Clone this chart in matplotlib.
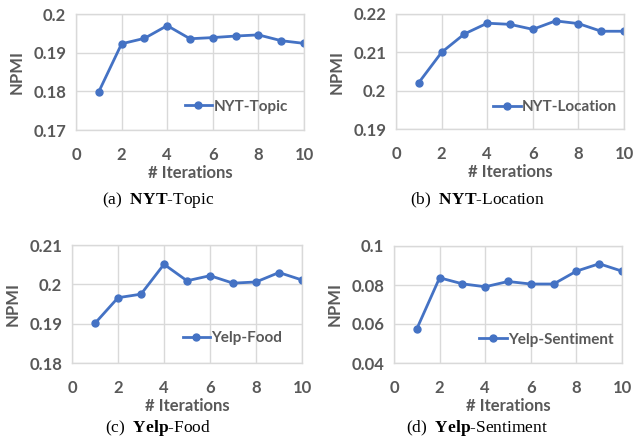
import matplotlib
matplotlib.use("Agg")
import matplotlib.pyplot as plt
from matplotlib.ticker import FixedLocator

plt.rcParams["mathtext.fontset"] = "custom"
plt.rcParams["mathtext.rm"] = "Liberation Serif"
plt.rcParams["mathtext.bf"] = "Liberation Serif:bold"

iterations = [1, 2, 3, 4, 5, 6, 7, 8, 9, 10]
nyt_topic = [0.1799, 0.1923, 0.1937, 0.1970, 0.1936, 0.1939, 0.1943, 0.1946, 0.1931, 0.1924]
nyt_location = [0.2021, 0.2100, 0.2148, 0.2176, 0.2173, 0.2160, 0.2182, 0.2175, 0.2155, 0.2155]
yelp_food = [0.1901, 0.1966, 0.1975, 0.2051, 0.2009, 0.2022, 0.2003, 0.2006, 0.2030, 0.2011]
yelp_sentiment = [0.0575, 0.0837, 0.0806, 0.0791, 0.0818, 0.0805, 0.0805, 0.0871, 0.0909, 0.0871]

series_names = ["NYT-Topic", "NYT-Location", "Yelp-Food", "Yelp-Sentiment"]
y_ticks = [[0.17, 0.18, 0.19, 0.2], [0.19, 0.2, 0.21, 0.22],
           [0.18, 0.19, 0.2, 0.21], [0.04, 0.06, 0.08, 0.1]]
y_ticklabels = [["0.17", "0.18", "0.19", "0.2"], ["0.19", "0.2", "0.21", "0.22"],
                ["0.18", "0.19", "0.2", "0.21"], ["0.04", "0.06", "0.08", "0.1"]]
x_ticks = [0, 2, 4, 6, 8, 10]
caption_letters = ["(a)", "(b)", "(c)", "(d)"]
caption_bold = ["NYT", "NYT", "Yelp", "Yelp"]
caption_rest = ["Topic", "Location", "Food", "Sentiment"]
all_values = [nyt_topic, nyt_location, yelp_food, yelp_sentiment]

W, H = 634, 443
fig = plt.figure(figsize=(W / 100, H / 100), dpi=100)

# axes boxes in pixels: left, right, top, bottom
boxes = [(76, 304, 14, 130), (396, 624, 14, 129), (72, 302, 245, 363), (394, 622, 246, 363)]
legend_pos = [(0.93, 0.2), (0.97, 0.19), (0.915, 0.21), (0.965, 0.2)]
caption_xy = [(158, 200), (477, 200), (158, 428), (477, 428)]

blue = "#4472C4"
grid_c = "#D9D9D9"
text_c = "#595959"
font = "Lato"
fs = 12

for i in range(4):
    l, r, t, b = boxes[i]
    ax = fig.add_axes([l / W, 1 - b / H, (r - l) / W, (b - t) / H])
    ax.plot(iterations, all_values[i], color=blue, lw=2, marker="o", ms=5,
            label=series_names[i])
    ax.set_xlim(0, 10)
    ax.set_ylim(y_ticks[i][0], y_ticks[i][-1])
    ax.xaxis.set_major_locator(FixedLocator(x_ticks))
    ax.set_yticks(y_ticks[i])
    ax.set_yticklabels(y_ticklabels[i])
    ax.set_xticklabels([str(v) for v in x_ticks])
    ax.grid(True, color=grid_c, lw=1)
    ax.set_axisbelow(True)
    for s in ax.spines.values():
        s.set_color(grid_c)
        s.set_linewidth(1)
    ax.tick_params(axis="x", length=0, labelsize=fs, labelcolor=text_c, pad=12)
    ax.tick_params(axis="y", length=0, labelsize=fs, labelcolor=text_c, pad=7)
    for lab in ax.get_xticklabels() + ax.get_yticklabels():
        lab.set_fontweight("bold")
        lab.set_fontfamily(font)
    ax.set_xlabel("# Iterations", fontsize=fs, fontweight="bold", color=text_c,
                  fontfamily=font, labelpad=2)
    ax.set_ylabel("NPMI", fontsize=fs, fontweight="bold", color=text_c,
                  fontfamily=font, labelpad=6)
    leg = ax.legend(loc="center right", bbox_to_anchor=legend_pos[i], frameon=False,
                    handlelength=1.8, handletextpad=0.1, borderpad=0, borderaxespad=0,
                    prop={"family": font, "weight": "bold", "size": 11})
    for txt in leg.get_texts():
        txt.set_color(text_c)

    cx = caption_xy[i][0] / W
    cy = 1 - caption_xy[i][1] / H
    cap = rf"{caption_letters[i]}  $\mathbf{{{caption_bold[i]}}}$-{caption_rest[i]}"
    fig.text(cx, cy, cap, ha="center", va="center", fontsize=12.5,
             fontfamily="Liberation Serif", color="black")

fig.savefig("out.png", dpi=100)
